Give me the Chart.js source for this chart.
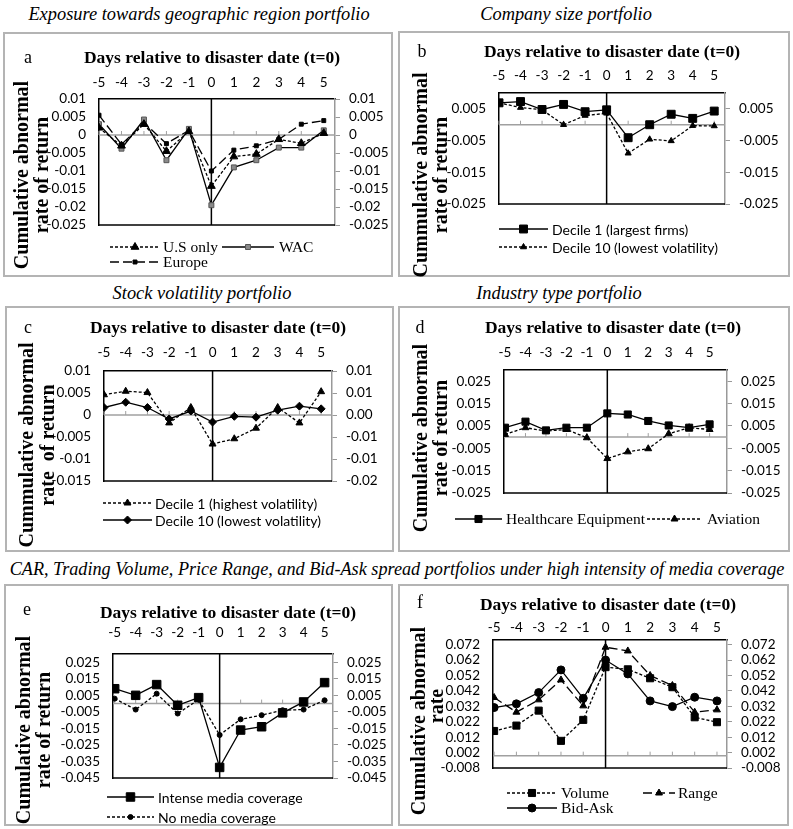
<!DOCTYPE html>
<html>
<head>
<meta charset="utf-8">
<script src="https://cdn.jsdelivr.net/npm/chart.js"></script>
<style>
  body { margin: 0; background: #fff; width: 793px; height: 829px; position: relative; overflow: hidden; }
  .cap { position: absolute; transform: translate(-50%, -50%); white-space: nowrap; line-height: 1;
         font-family: 'Liberation Serif', 'Times New Roman', serif; font-style: italic; font-size: 18.4px; color: #000; }
  .panel { position: absolute; }
  .panel canvas { display: block; }
</style>
</head>
<body>
<div class="cap" style="left:199px;top:14px">Exposure towards geographic region portfolio</div>
<div class="cap" style="left:566px;top:14px">Company size portfolio</div>
<div class="cap" style="left:202px;top:293px">Stock volatility portfolio</div>
<div class="cap" style="left:559px;top:293px">Industry type portfolio</div>
<div class="cap" style="left:397px;top:569px;font-size:18.2px">CAR, Trading Volume, Price Range, and Bid-Ask spread portfolios under high intensity of media coverage</div>

<script>
// days relative to disaster date
const days = [-5, -4, -3, -2, -1, 0, 1, 2, 3, 4, 5];

// a - geographic region
const aUS     = [0.002, -0.003, 0.003, -0.0045, 0.001, -0.0142, -0.006, -0.0053, -0.0012, -0.0023, 0.0005];
const aWAC    = [0.003, -0.0038, 0.0043, -0.007, 0.0017, -0.0195, -0.009, -0.007, -0.0035, -0.0035, 0.0013];
const aEurope = [0.0055, -0.0026, 0.0034, -0.0024, 0.0013, -0.01, -0.0042, -0.003, -0.0012, 0.003, 0.004];
const aTicks  = [-0.025, -0.02, -0.015, -0.01, -0.005, 0, 0.005, 0.01];
const aLabels = ['-0.025', '-0.02', '-0.015', '-0.01', '-0.005', '0', '0.005', '0.01'];

// b - company size
const bDec1  = [0.0069, 0.0073, 0.0048, 0.0064, 0.0041, 0.0047, -0.0041, 0, 0.0033, 0.002, 0.0043];
const bDec10 = [0.0069, 0.0054, 0.0047, 0, 0.0029, 0.0036, -0.009, -0.0046, -0.0051, -0.0003, -0.0004];
const bTicks  = [-0.025, -0.015, -0.005, 0.005];
const bLabels = ['-0.025', '-0.015', '-0.005', '0.005'];

// c - stock volatility
const cDec1  = [0.0046, 0.0054, 0.0051, -0.0018, 0.0017, -0.0066, -0.0054, -0.003, 0.0017, -0.0018, 0.0053];
const cDec10 = [0.0017, 0.0029, 0.0017, -0.0009, 0.0009, -0.0016, -0.0003, -0.0005, 0.0011, 0.002, 0.0014];
const cTicks  = [-0.015, -0.01, -0.005, 0, 0.005, 0.01];
const cLabels = ['-0.015', '-0.01', '-0.005', '0', '0.005', '0.01'];
const cLabelsRight = ['-0.02', '-0.01', '-0.01', '0.00', '0.01', '0.01'];

// d - industry type
const dHealth   = [0.0042, 0.0069, 0.003, 0.0042, 0.0042, 0.0106, 0.0101, 0.0072, 0.0052, 0.0042, 0.0057];
const dAviation = [0.0012, 0.0042, 0.0027, 0.0034, -0.0003, -0.0096, -0.0066, -0.0052, 0.0015, 0.0042, 0.0034];
const dTicks  = [-0.025, -0.015, -0.005, 0.005, 0.015, 0.025];
const dLabels = ['-0.025', '-0.015', '-0.005', '0.005', '0.015', '0.025'];

// e - media coverage
const eIntense = [0.009, 0.005, 0.0115, -0.001, 0.0036, -0.0386, -0.016, -0.014, -0.0056, 0.001, 0.0127];
const eNone    = [0.003, -0.0036, 0.006, -0.006, 0.0024, -0.019, -0.0095, -0.007, -0.004, -0.0036, 0.002];
const eTicks  = [-0.045, -0.035, -0.025, -0.015, -0.005, 0.005, 0.015, 0.025];
const eLabels = ['-0.045', '-0.035', '-0.025', '-0.015', '-0.005', '0.005', '0.015', '0.025'];

// f - volume, range, bid-ask
const fVolume = [0.016, 0.0195, 0.0292, 0.0096, 0.0232, 0.0574, 0.056, 0.0502, 0.0444, 0.0249, 0.0217];
const fRange  = [0.0377, 0.0282, 0.0362, 0.0491, 0.0323, 0.0703, 0.0679, 0.052, 0.0455, 0.0282, 0.0297];
const fBidAsk = [0.0312, 0.0336, 0.0409, 0.0556, 0.0372, 0.062, 0.053, 0.0355, 0.0318, 0.0379, 0.0355];
const fTicks  = [-0.008, 0.002, 0.012, 0.022, 0.032, 0.042, 0.052, 0.062, 0.072];
const fLabels = ['-0.008', '0.002', '0.012', '0.022', '0.032', '0.042', '0.052', '0.062', '0.072'];

const SERIF = "'Liberation Serif', 'Times New Roman', serif";
const SANS = "Lato, 'Liberation Sans', sans-serif";
const SHORT = [3, 2], LONG = [9, 4];

function series(label, vals, dash, style, r, fill) {
  return {
    label: label,
    data: days.map((d, i) => ({ x: d, y: vals[i] })),
    borderColor: '#000', borderWidth: 1.3, borderDash: dash, tension: 0,
    pointStyle: style, pointRadius: r, pointBackgroundColor: fill || '#000',
    pointBorderColor: fill ? '#555' : '#000', pointBorderWidth: 1
  };
}

function line(ctx, x0, y0, x1, y1) {
  ctx.beginPath(); ctx.moveTo(x0, y0); ctx.lineTo(x1, y1); ctx.stroke();
}

// letter, titles, zero lines, border and legend
function decor(p) {
  return {
    id: 'decor',
    beforeDatasetsDraw(chart) {
      const { ctx, chartArea: ca, scales: { x, y } } = chart;
      const y0 = y.getPixelForValue(0), x0 = x.getPixelForValue(0);
      ctx.save();
      ctx.strokeStyle = '#a0a0a0'; ctx.lineWidth = 1.5;
      line(ctx, ca.left, y0, ca.right, y0);
      ctx.lineWidth = 1;
      days.forEach(d => { const px = x.getPixelForValue(d); line(ctx, px, y0, px, y0 - 4); });
      ctx.strokeStyle = '#000'; ctx.lineWidth = 1.5;
      line(ctx, x0, ca.top, x0, ca.bottom);
      line(ctx, ca.left, ca.bottom, ca.right, ca.bottom);
      ctx.restore();
    },
    afterDraw(chart) {
      const ctx = chart.ctx;
      ctx.save();
      ctx.strokeStyle = '#b4b4b4'; ctx.lineWidth = 2;
      ctx.strokeRect(1, 1, chart.width - 2, chart.height - 2);
      ctx.fillStyle = '#000';
      ctx.textBaseline = 'middle';
      ctx.textAlign = 'center';
      ctx.font = '18px ' + SERIF;
      ctx.fillText(p.letter, p.letterPos[0], p.letterPos[1]);
      ctx.font = 'bold 17.5px ' + SERIF;
      ctx.fillText('Days relative to disaster date (t=0)', p.xTitle[0], p.xTitle[1]);
      ctx.font = 'bold 20px ' + SERIF;
      p.yTitle.forEach(t => {
        ctx.save();
        ctx.translate(t.x, t.y); ctx.rotate(-Math.PI / 2);
        ctx.fillText(t.text, 0, 0);
        ctx.restore();
      });
      ctx.textAlign = 'left';
      p.legend.forEach(e => {
        const ds = chart.data.datasets[e.ds];
        ctx.strokeStyle = '#000'; ctx.lineWidth = 1.3;
        ctx.setLineDash(ds.borderDash || []);
        line(ctx, e.x0, e.y, e.x1, e.y);
        ctx.setLineDash([]);
        ctx.fillStyle = ds.pointBackgroundColor; ctx.strokeStyle = ds.pointBorderColor; ctx.lineWidth = 1;
        Chart.helpers.drawPoint(ctx, { pointStyle: ds.pointStyle, radius: ds.pointRadius, borderWidth: 1, rotation: 0 },
          (e.x0 + e.x1) / 2, e.y);
        ctx.fillStyle = '#000';
        ctx.font = e.font;
        ctx.fillText(ds.label, e.tx, e.y + 1);
      });
      ctx.restore();
    }
  };
}

function panel(box, p) {
  const div = document.createElement('div');
  div.className = 'panel';
  div.style.left = box.x + 'px'; div.style.top = box.y + 'px';
  const cv = document.createElement('canvas');
  cv.width = box.w; cv.height = box.h;
  div.appendChild(cv); document.body.appendChild(div);
  const tickFont = { family: SANS, size: 13.5 };
  const yAxis = (pos, labels, width) => ({
    type: 'linear', position: pos, min: p.yMin, max: p.yMax,
    afterBuildTicks: s => { s.ticks = p.yTicks.map(v => ({ value: v })); },
    afterFit: s => { s.width = width; },
    ticks: { color: '#000', font: tickFont, autoSkip: false, padding: pos === 'left' ? 13 : 9,
             callback: (v, i) => labels[i] },
    grid: pos === 'left'
      ? { drawOnChartArea: false, drawTicks: false }
      : { drawOnChartArea: false, drawTicks: true, tickLength: 5, color: '#999' },
    border: { display: true, color: pos === 'left' ? '#000' : '#999', width: 1.5 }
  });
  new Chart(cv, {
    type: 'line',
    data: { datasets: p.datasets },
    options: {
      responsive: false, animation: false, devicePixelRatio: 1,
      layout: { padding: { left: 0, right: 0, top: 0, bottom: box.h - p.plot[3] } },
      plugins: { legend: { display: false }, tooltip: { enabled: false } },
      scales: {
        x: {
          type: 'linear', position: 'top', min: p.xMin, max: p.xMax,
          afterBuildTicks: s => { s.ticks = days.map(v => ({ value: v })); },
          afterFit: s => { s.height = p.plot[1]; },
          ticks: { color: '#000', font: tickFont, autoSkip: false, padding: p.xPad, maxRotation: 0,
                   callback: v => String(v) },
          grid: { drawOnChartArea: false, drawTicks: false },
          border: { display: true, color: '#000', width: 1.5 }
        },
        y: yAxis('left', p.yLabels, p.plot[0]),
        y2: yAxis('right', p.yLabelsRight || p.yLabels, box.w - p.plot[2])
      }
    },
    plugins: [decor(p)]
  });
}

const serifLeg = '15.5px ' + SERIF, sansLeg = '14px ' + SANS;

panel({ x: 3, y: 32, w: 390, h: 245 }, {
  letter: 'a', letterPos: [25, 26], xTitle: [209, 26],
  yTitle: [{ text: 'Cumulative abnormal', x: 20, y: 143 }, { text: 'rate of return', x: 40, y: 143 }],
  plot: [96, 67, 332, 193], xMin: -5, xMax: 5.5, xPad: 8.6,
  yMin: -0.025, yMax: 0.01, yTicks: aTicks, yLabels: aLabels,
  datasets: [
    series('U.S only', aUS, SHORT, 'triangle', 4.5),
    series('WAC', aWAC, [], 'rect', 3.5, '#8a8a8a'),
    series('Europe', aEurope, LONG, 'rect', 2.8)
  ],
  legend: [
    { ds: 0, x0: 107, x1: 157, y: 215, tx: 160, font: serifLeg },
    { ds: 1, x0: 219, x1: 271, y: 215, tx: 276, font: serifLeg },
    { ds: 2, x0: 107, x1: 157, y: 230, tx: 160, font: serifLeg }
  ]
});

panel({ x: 398, y: 31, w: 392, h: 246 }, {
  letter: 'b', letterPos: [24, 21], xTitle: [214, 21],
  yTitle: [{ text: 'Cummulative abnormal', x: 24, y: 144 }, { text: 'rate of return', x: 44, y: 144 }],
  plot: [101, 62, 327, 173], xMin: -5, xMax: 5.5, xPad: 9.6,
  yMin: -0.025, yMax: 0.01, yTicks: bTicks, yLabels: bLabels,
  datasets: [
    series('Decile 1 (largest firms)', bDec1, [], 'rect', 5.6),
    series('Decile 10 (lowest volatility)', bDec10, SHORT, 'triangle', 3.5)
  ],
  legend: [
    { ds: 0, x0: 101, x1: 150, y: 198, tx: 154, font: sansLeg },
    { ds: 1, x0: 101, x1: 150, y: 216, tx: 154, font: sansLeg }
  ]
});

panel({ x: 5, y: 306, w: 389, h: 246 }, {
  letter: 'c', letterPos: [23, 22], xTitle: [213, 22],
  yTitle: [{ text: 'Cummulative abnormal', x: 23, y: 139 }, { text: 'rate  of return', x: 44, y: 139 }],
  plot: [99, 65, 327, 175], xMin: -5, xMax: 5.5, xPad: 10.6,
  yMin: -0.015, yMax: 0.01, yTicks: cTicks, yLabels: cLabels, yLabelsRight: cLabelsRight,
  datasets: [
    series('Decile 1 (highest volatility)', cDec1, SHORT, 'triangle', 4),
    series('Decile 10 (lowest volatility)', cDec10, [], 'rectRot', 4)
  ],
  legend: [
    { ds: 0, x0: 98, x1: 147, y: 197, tx: 150, font: sansLeg },
    { ds: 1, x0: 98, x1: 147, y: 214, tx: 150, font: sansLeg }
  ]
});

panel({ x: 398, y: 306, w: 392, h: 246 }, {
  letter: 'd', letterPos: [22, 22], xTitle: [215, 22],
  yTitle: [{ text: 'Cumulative abnormal', x: 24, y: 132 }, { text: 'rate of return', x: 44, y: 132 }],
  plot: [106, 64, 329, 187], xMin: -5.05, xMax: 5.85, xPad: 9.6,
  yMin: -0.025, yMax: 0.03, yTicks: dTicks, yLabels: dLabels,
  datasets: [
    series('Healthcare Equipment', dHealth, [], 'rect', 5),
    series('Aviation', dAviation, SHORT, 'triangle', 4)
  ],
  legend: [
    { ds: 0, x0: 57, x1: 104, y: 213, tx: 108, font: serifLeg },
    { ds: 1, x0: 249, x1: 304, y: 213, tx: 309, font: serifLeg }
  ]
});

panel({ x: 4, y: 584, w: 389, h: 242 }, {
  letter: 'e', letterPos: [23, 26], xTitle: [224, 29],
  yTitle: [{ text: 'Cumulative abnormal', x: 21, y: 146 }, { text: 'rate of return', x: 41, y: 146 }],
  plot: [109, 70, 329, 194], xMin: -5.08, xMax: 5.4, xPad: 13.6,
  yMin: -0.045, yMax: 0.03, yTicks: eTicks, yLabels: eLabels,
  datasets: [
    series('Intense media coverage', eIntense, [], 'rect', 6),
    series('No media coverage', eNone, SHORT, 'circle', 2.5)
  ],
  legend: [
    { ds: 0, x0: 103, x1: 150, y: 213, tx: 154, font: sansLeg },
    { ds: 1, x0: 103, x1: 150, y: 233, tx: 154, font: sansLeg }
  ]
});

panel({ x: 398, y: 584, w: 391, h: 242 }, {
  letter: 'f', letterPos: [22, 19], xTitle: [210, 21],
  yTitle: [{ text: 'Cumulative abnormal', x: 22, y: 137 }, { text: 'rate', x: 40, y: 122 }],
  plot: [95, 56, 329, 184], xMin: -5.05, xMax: 5.45, xPad: 4.6,
  yMin: -0.008, yMax: 0.075, yTicks: fTicks, yLabels: fLabels,
  datasets: [
    series('Volume', fVolume, SHORT, 'rect', 5),
    series('Range', fRange, LONG, 'triangle', 4),
    series('Bid-Ask', fBidAsk, [], 'circle', 4)
  ],
  legend: [
    { ds: 0, x0: 109, x1: 159, y: 209, tx: 163, font: serifLeg },
    { ds: 1, x0: 245, x1: 277, y: 209, tx: 280, font: serifLeg },
    { ds: 2, x0: 109, x1: 159, y: 224, tx: 163, font: serifLeg }
  ]
});
</script>
</body>
</html>
